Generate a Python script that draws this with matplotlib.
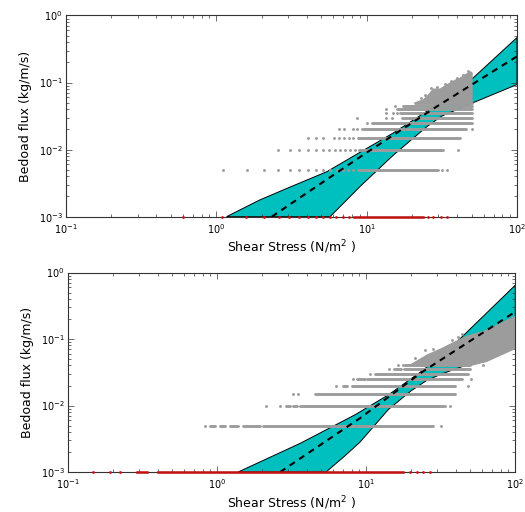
import matplotlib
matplotlib.use("Agg")
import matplotlib.pyplot as plt

# ---- top panel data ----
top_hi_x = [1.17, 1.95, 3.16, 5.43, 9.04, 15.1, 25.1, 50.0, 100]
top_hi_y = [0.001, 0.00178, 0.00282, 0.00468, 0.00912, 0.0178, 0.0372, 0.112, 0.468]
top_lo_x = [5.71, 7.08, 9.04, 15.1, 25.1, 31.6, 50.0, 100]
top_lo_y = [0.001, 0.00162, 0.00282, 0.00832, 0.0219, 0.0316, 0.049, 0.0933]
top_fit_x = [2.34, 9.04, 29.2, 100]
top_fit_y = [0.001, 0.00776, 0.0437, 0.245]

top_levels = [0.005, 0.01, 0.015, 0.02, 0.025, 0.03, 0.035, 0.04, 0.045, 0.05]
top_dots = [
    [1.10, 1.59, 2.08, 2.59, 3.09, 3.56, 4.09, 4.60, 5.15, 5.70, 6.32, 7.0, 7.55, 8.17, 31.9, 34.1],
    [2.59, 3.09, 3.56, 4.09, 4.60, 5.15, 5.65, 6.17, 6.65, 7.18, 7.76, 8.37, 40.5],
    [4.09, 4.60, 5.15, 6.07, 6.58, 7.08, 7.60, 8.17],
    [6.58, 7.08, 8.17, 8.60, 50.0],
    [10.0],
    [8.6, 13.5, 14.7],
    [13.5, 15.0, 15.8],
    [13.5],
    [15.5],
    [],
]
top_segs = [
    [(8.8, 30.0)],
    [(8.9, 32.0)],
    [(8.8, 42.0)],
    [(9.3, 46.0)],
    [(10.8, 50.3)],
    [(17.1, 50.3)],
    [(16.7, 50.3)],
    [(16.0, 50.3)],
    [(17.5, 50.3)],
    [(21.0, 50.3)],
]
top_cloud_x = [21.0, 23.8, 25.7, 27.8, 30.8, 34.1, 38.7, 41.8, 46.4, 48.8, 50.3, 50.3]
top_cloud_y = [0.05, 0.055, 0.065, 0.08, 0.08, 0.092, 0.108, 0.116, 0.135, 0.145, 0.14, 0.05]
top_out_x = [23.0, 24.5, 27.0, 29.5, 33.0, 36.5, 40.0, 44.0, 47.5]
top_out_y = [0.058, 0.066, 0.082, 0.086, 0.095, 0.106, 0.118, 0.13, 0.148]
top_red_dots = [0.6, 1.09, 1.58, 2.08, 2.6, 3.05, 3.55, 4.07, 4.6, 5.1, 5.7, 6.3, 7.0, 7.6,
                25.6, 27.7, 31.1, 34.2]
top_red_segs = [(8.2, 23.8)]

# ---- bottom panel data ----
bot_hi_x = [1.38, 3.59, 8.39, 14.06, 24.0, 39.8, 100]
bot_hi_y = [0.001, 0.00269, 0.00724, 0.01445, 0.0339, 0.0871, 0.646]
bot_lo_x = [5.37, 7.08, 9.08, 14.06, 19.95, 25.1, 31.6, 50.1, 100]
bot_lo_y = [0.001, 0.0017, 0.00282, 0.0087, 0.0166, 0.0234, 0.0295, 0.0427, 0.0776]
bot_fit_x = [2.64, 9.08, 23.55, 100]
bot_fit_y = [0.001, 0.00646, 0.0316, 0.257]

bot_levels = [0.005, 0.01, 0.015, 0.02, 0.025, 0.03, 0.035, 0.04]
bot_dots = [
    [0.83, 31.7],
    [2.11, 2.64, 36.5],
    [3.2, 3.5],
    [6.26, 48.5],
    [8.1, 50.5],
    [10.6],
    [14.1],
    [16.4, 17.5],
]
bot_segs = [
    [(0.89, 0.97), (1.04, 1.13), (1.22, 1.38), (1.49, 1.94), (2.04, 28.2)],
    [(2.89, 3.07), (3.24, 3.41), (3.59, 33.7)],
    [(4.53, 39.4)],
    [(7.0, 7.4), (7.97, 39.4)],
    [(8.6, 9.8), (10.1, 43.6)],
    [(11.4, 14.1), (14.4, 48.5)],
    [(15.3, 17.0), (18.0, 49.7)],
    [(18.5, 50.0)],
]
bot_cloud_x = [19.5, 20.6, 25.4, 32.1, 38.4, 47.2, 64.3, 100, 100, 64.3, 50.0, 19.5]
bot_cloud_y = [0.04, 0.043, 0.057, 0.072, 0.088, 0.11, 0.135, 0.22, 0.072, 0.046, 0.04, 0.04]
bot_out_x = [18.2, 21.2, 24.8, 28.2, 37.4, 41.4, 43.6, 59.6, 61.0]
bot_out_y = [0.041, 0.051, 0.068, 0.072, 0.097, 0.108, 0.117, 0.046, 0.041]
bot_red_dots = [0.147, 0.19, 0.222, 19.6, 21.9, 24.0, 26.7]
bot_red_segs = [(0.29, 0.34), (0.40, 17.6)]

GRAY = '#9c9c9c'


def draw_panel(ax, hi_x, hi_y, lo_x, lo_y, fit_x, fit_y, levels, dots, segs,
               cloud_x, cloud_y, out_x, out_y, red_dots, red_segs):
    ax.set_xscale('log')
    ax.set_yscale('log')
    # uncertainty band
    ax.fill(hi_x + lo_x[::-1], hi_y + lo_y[::-1], facecolor='c', edgecolor='k',
            linewidth=0.7, zorder=1)
    # measured data (quantised flux levels)
    for lev, d, s in zip(levels, dots, segs):
        ax.plot(d, [lev] * len(d), 'o', color=GRAY, ms=2.1, mew=0, zorder=2)
        for x0, x1 in s:
            ax.plot([x0, x1], [lev, lev], '-', color=GRAY, lw=2.1,
                    solid_capstyle='round', zorder=2)
    ax.fill(cloud_x, cloud_y, color=GRAY, lw=0.8, zorder=2)
    ax.plot(out_x, out_y, 'o', color=GRAY, ms=2.1, mew=0, zorder=2)
    # fitted relation
    ax.plot(fit_x, fit_y, 'k--', lw=1.5, dashes=(3, 2.5), zorder=3)
    # zero-flux samples on the lower limit
    ax.plot(red_dots, [1e-3] * len(red_dots), 'o', color='#d01010', ms=2.0, mew=0,
            clip_on=False, zorder=5)
    for x0, x1 in red_segs:
        ax.plot([x0, x1], [1e-3, 1e-3], '-', color='#c01010', lw=1.8,
                clip_on=False, zorder=5)
    ax.set_xlim(0.1, 100)
    ax.set_ylim(1e-3, 1)
    ax.tick_params(which='both', direction='in', top=True, right=True,
                   labelsize=7, width=0.5, colors='#333333', labelcolor='k')
    ax.tick_params(which='major', length=4, pad=2.5)
    ax.tick_params(axis='x', which='major', pad=4)
    ax.tick_params(which='minor', length=2)
    for sp in ax.spines.values():
        sp.set_linewidth(0.8)
        sp.set_color('#333333')
    ax.set_xlabel('Shear Stress (N/m$^2$ )', fontsize=9, labelpad=2)
    ax.set_ylabel('Bedoad flux (kg/m/s)', fontsize=9, labelpad=5)


fig = plt.figure(figsize=(5.25, 5.12), dpi=100)
ax1 = fig.add_axes([0.1257, 0.5768, 0.859, 0.393])
ax2 = fig.add_axes([0.1301, 0.0781, 0.8514, 0.3896])

draw_panel(ax1, top_hi_x, top_hi_y, top_lo_x, top_lo_y, top_fit_x, top_fit_y,
           top_levels, top_dots, top_segs, top_cloud_x, top_cloud_y,
           top_out_x, top_out_y, top_red_dots, top_red_segs)
draw_panel(ax2, bot_hi_x, bot_hi_y, bot_lo_x, bot_lo_y, bot_fit_x, bot_fit_y,
           bot_levels, bot_dots, bot_segs, bot_cloud_x, bot_cloud_y,
           bot_out_x, bot_out_y, bot_red_dots, bot_red_segs)

fig.savefig('out.png', dpi=100)
